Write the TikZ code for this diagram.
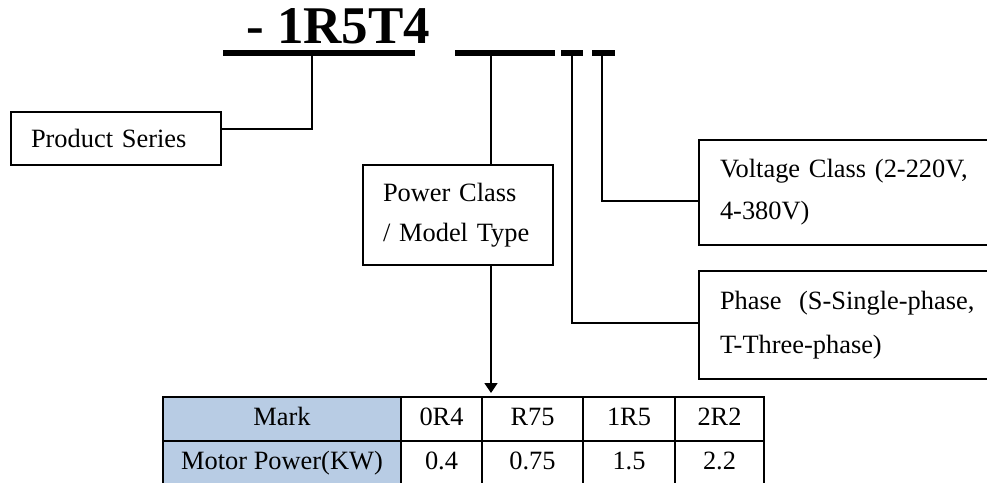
\documentclass[tikz,border=0pt]{standalone}
\usepackage{fontspec}
\setmainfont{Liberation Serif}
\usetikzlibrary{arrows.meta,positioning}
\definecolor{markblue}{HTML}{B8CCE4}

\begin{document}
\begin{tikzpicture}[
  x=1pt, y=-1pt,
  node distance=0pt,
  txt/.style={font=\fontsize{26.4}{42}\selectfont},
  box/.style={txt, rectangle, draw, line width=1.3pt, anchor=north west, align=left, inner xsep=20pt, inner ysep=0pt, outer sep=0pt},
  bar/.style={rectangle, fill=black, inner sep=0pt, minimum height=5.5pt},
  cell/.style={txt, rectangle, draw, line width=1.8pt, minimum height=44pt, inner sep=0pt, outer sep=0pt, text height=18pt, text depth=6pt},
  conn/.style={line width=1.5pt},
  arr/.style={conn, -{Triangle[width=13pt,length=10pt]}}
]
\path[use as bounding box] (0,0) rectangle (987,482);
\clip (0,0) rectangle (987,482);

% model code and its underlines
\node[font=\fontsize{53}{53}\selectfont\bfseries, anchor=base west, inner sep=0pt] (code) at (246,43) {- 1R5T4};
\node[bar, minimum width=192pt] (bar1) at (319,53) {};
\node[bar, minimum width=100pt] (bar2) at (505,53) {};
\node[bar, minimum width=22pt] (bar3) at (572,53) {};
\node[bar, minimum width=23pt] (bar4) at (603.5,53) {};
\coordinate (t1) at (312,55);
\coordinate (t2) at (491,55);
\coordinate (t3) at (572,55);
\coordinate (t4) at (602,55);

% label boxes
\node[box, minimum width=210pt, minimum height=53pt, text width=170pt] (series) at (11,112) {Product Series};
\node[box, minimum width=190pt, minimum height=100pt, text width=150pt, font=\fontsize{26.4}{40}\selectfont] (power) at (363,165) {Power Class\\/ Model Type};
\node[box, minimum width=320pt, minimum height=105pt, text width=278pt, inner xsep=21pt] (volt) at (699,140) {Voltage Class (2-220V,\\4-380V)};
\node[box, minimum width=320pt, minimum height=108pt, text width=278pt, inner xsep=20pt, font=\fontsize{26.4}{44}\selectfont] (phase) at (699,271) {Phase\ \ (S-Single-phase,\\T-Three-phase)};

% table
\node[cell, fill=markblue, minimum width=238pt, anchor=north west] (mark) at (163,397) {Mark};
\node[cell, minimum width=81pt, right=of mark] (r04) {0R4};
\node[cell, minimum width=101pt, right=of r04] (r75) {R75};
\node[cell, minimum width=92pt, right=of r75] (r15) {1R5};
\node[cell, minimum width=89pt, right=of r15] (r22) {2R2};
\node[cell, fill=markblue, minimum width=238pt, below=of mark] (kw) {Motor Power(KW)};
\node[cell, minimum width=81pt, right=of kw] (kw04) {0.4};
\node[cell, minimum width=101pt, right=of kw04] (kw75) {0.75};
\node[cell, minimum width=92pt, right=of kw75] (kw15) {1.5};
\node[cell, minimum width=89pt, right=of kw15] (kw22) {2.2};

% connectors
\draw[conn] (t1) |- ([yshift=9.5pt]series.east);
\draw[conn] (t2) -- (t2 |- power.north);
\draw[arr, shorten >=4pt] (t2 |- power.south) -- (t2 |- r75.north);
\draw[conn] (t4) |- ([yshift=-8.5pt]volt.west);
\draw[conn] (t3) |- ([yshift=2pt]phase.west);
\end{tikzpicture}
\end{document}
